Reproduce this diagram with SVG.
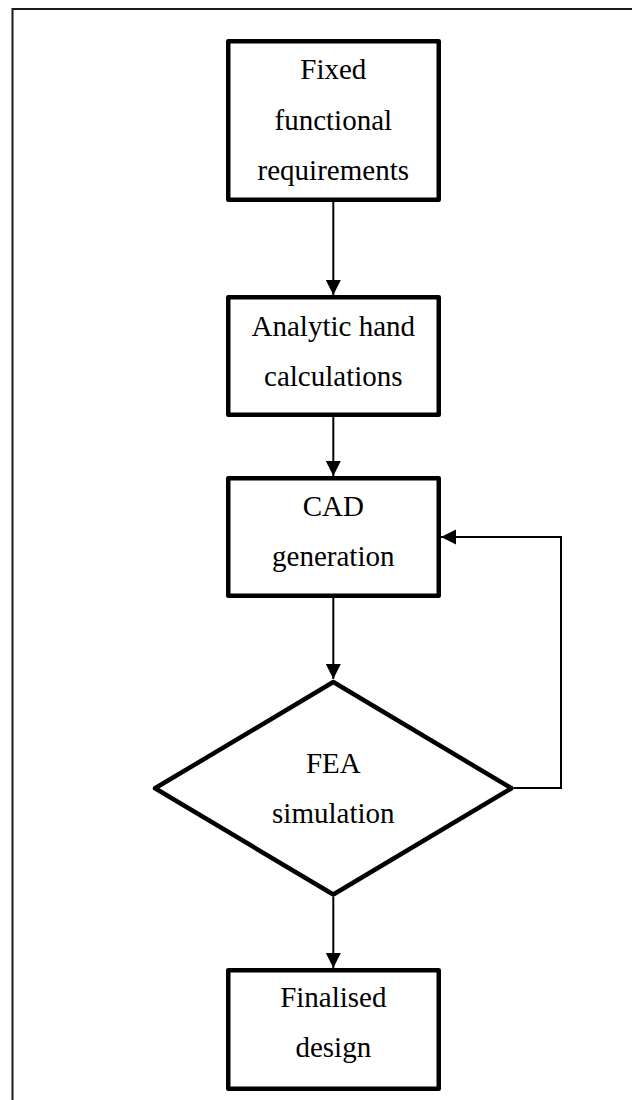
<svg xmlns="http://www.w3.org/2000/svg" width="632" height="1100" viewBox="0 0 632 1100">
<style>
.frame{fill:none;stroke:#1a1a1a;stroke-width:2}
.node{fill:#fff;stroke:#000;stroke-width:4.5;stroke-linejoin:round}
.lbl{font-family:"Liberation Serif","Times New Roman",serif;font-size:29px;fill:#000;text-anchor:middle}
.conn{fill:none;stroke:#000;stroke-width:2}
</style>
<defs>
<marker id="arr" markerUnits="userSpaceOnUse" markerWidth="16" markerHeight="16" refX="15" refY="7.5" orient="auto">
<path d="M0,0 L15,7.5 L0,15 z" fill="#000"/>
</marker>
</defs>
<rect width="632" height="1100" fill="#fff"/>
<path class="frame" d="M12.5,1100 V9 H632"/>
<g id="connectors">
<line class="conn" x1="333.3" y1="202" x2="333.3" y2="295" marker-end="url(#arr)"/>
<line class="conn" x1="333.3" y1="417" x2="333.3" y2="476" marker-end="url(#arr)"/>
<line class="conn" x1="333.3" y1="598" x2="333.3" y2="679" marker-end="url(#arr)"/>
<line class="conn" x1="333.3" y1="897" x2="333.3" y2="968" marker-end="url(#arr)"/>
<polyline class="conn" points="514,788 561,788 561,537 441,537" marker-end="url(#arr)"/>
</g>
<g id="n1">
<rect class="node" x="228.25" y="41.25" width="210.5" height="158.5"/>
<text class="lbl" x="333.3" y="79.3">Fixed</text>
<text class="lbl" x="333.3" y="129.5">functional</text>
<text class="lbl" x="333.3" y="179.5">requirements</text>
</g>
<g id="n2">
<rect class="node" x="228.25" y="297.25" width="210.5" height="117.5"/>
<text class="lbl" x="333.3" y="335.7">Analytic hand</text>
<text class="lbl" x="333.3" y="385.7">calculations</text>
</g>
<g id="n3">
<rect class="node" x="228.25" y="478.25" width="210.5" height="117.5"/>
<text class="lbl" x="333.3" y="515.7">CAD</text>
<text class="lbl" x="333.3" y="565.7">generation</text>
</g>
<g id="n4">
<polygon class="node" points="333.3,682 511.5,788.3 333.3,894.5 155,788.3" stroke-width="5" stroke-linejoin="miter"/>
<text class="lbl" x="333.3" y="773.3">FEA</text>
<text class="lbl" x="333.3" y="823.3">simulation</text>
</g>
<g id="n5">
<rect class="node" x="228.25" y="970.25" width="210.5" height="118.5"/>
<text class="lbl" x="333.3" y="1007.3">Finalised</text>
<text class="lbl" x="333.3" y="1057.3">design</text>
</g>
</svg>
